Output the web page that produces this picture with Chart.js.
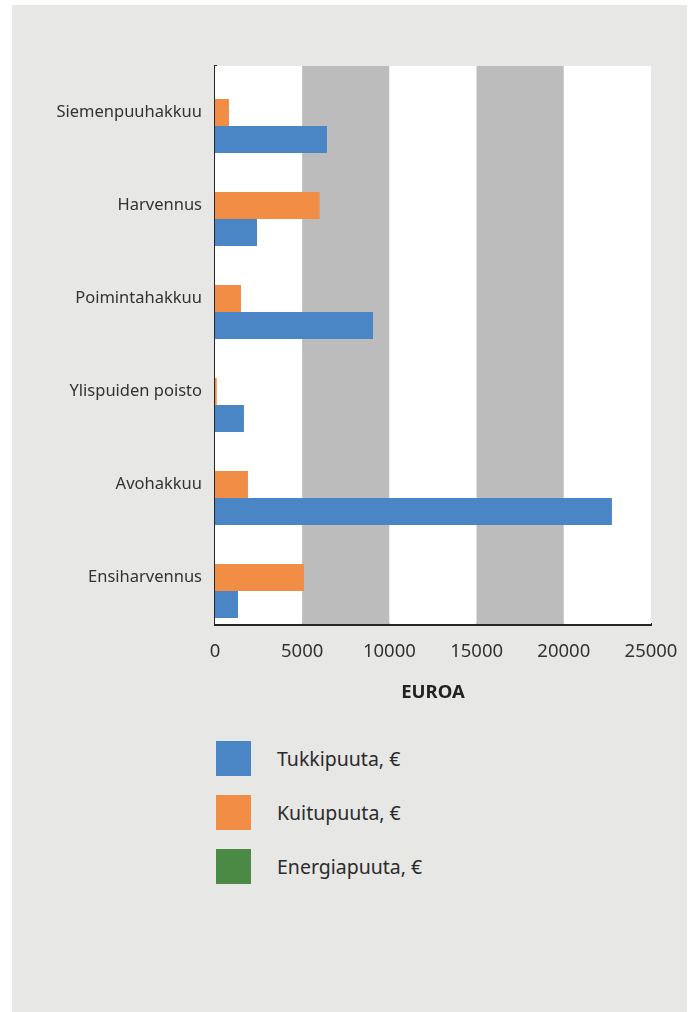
<!DOCTYPE html>
<html>
<head>
<meta charset="utf-8">
<script src="https://cdn.jsdelivr.net/npm/chart.js@4/dist/chart.umd.min.js"></script>
<style>
  body { margin: 0; background: #ffffff; }
  #panel { position: absolute; left: 12px; top: 5px; width: 675px; height: 1007px; background: #e7e7e5; }
  #mycanvas { position: absolute; left: 0; top: 0; }
  #legend { position: absolute; left: 204px; top: 726px; font-family: "Noto Sans", sans-serif; font-size: 19.5px; color: #2b2b2b; }
  .item { height: 54px; display: flex; align-items: center; }
  .box { width: 35px; height: 35px; margin-right: 26px; }
</style>
</head>
<body>
<div id="panel">
  <canvas id="mycanvas" width="675" height="720"></canvas>
  <div id="legend"></div>
</div>
<script>
var categories = ['Siemenpuuhakkuu', 'Harvennus', 'Poimintahakkuu', 'Ylispuiden poisto', 'Avohakkuu', 'Ensiharvennus'];
var tukkipuuta = [6420, 2410, 9060, 1660, 22760, 1320];
var kuitupuuta = [800, 6000, 1490, 100, 1890, 5100];
var energiapuuta = [0, 0, 0, 0, 0, 0];
var xTicks = [0, 5000, 10000, 15000, 20000, 25000];

// legend order as in the picture, bars drawn in reverse (Excel style)
var series = [
  { label: 'Tukkipuuta, €', data: tukkipuuta, color: '#4a86c5' },
  { label: 'Kuitupuuta, €', data: kuitupuuta, color: '#f28d46' },
  { label: 'Energiapuuta, €', data: energiapuuta, color: '#4b8a45' }
];

var datasets = series.slice().reverse().map(function(s) {
  return {
    label: s.label,
    data: s.data,
    backgroundColor: s.color,
    borderWidth: 0,
    categoryPercentage: 0.871,
    barPercentage: 1.0
  };
});

var bands = {
  id: 'bands',
  beforeDatasetsDraw: function(chart) {
    var ctx = chart.ctx, a = chart.chartArea, x = chart.scales.x;
    ctx.save();
    for (var i = 0; i < xTicks.length - 1; i++) {
      var x0 = x.getPixelForValue(xTicks[i]);
      var x1 = x.getPixelForValue(xTicks[i + 1]);
      ctx.fillStyle = (i % 2 === 1) ? '#bbbcbb' : '#ffffff';
      ctx.fillRect(x0, a.top, x1 - x0, a.bottom - a.top);
    }
    ctx.restore();
  }
};

var ctx = document.getElementById('mycanvas');
var barGraph = new Chart(ctx, {
  type: 'bar',
  data: { labels: categories, datasets: datasets },
  plugins: [bands],
  options: {
    indexAxis: 'y',
    responsive: false,
    animation: false,
    layout: { padding: { left: 0, right: 36, top: 61, bottom: 11 } },
    plugins: { legend: { display: false }, tooltip: { enabled: false } },
    scales: {
      x: {
        min: 0,
        max: 25000,
        afterBuildTicks: function(scale) {
          scale.ticks = xTicks.map(function(v) { return { value: v }; });
        },
        afterFit: function(scale) {
          scale.height = 90;
          scale.paddingLeft = 0;
          scale.paddingRight = 0;
        },
        grid: { display: false, drawTicks: false },
        border: { display: true, color: '#262626', width: 3 },
        ticks: {
          padding: 17,
          color: '#333333',
          font: { family: 'Noto Sans', size: 18.5 },
          maxRotation: 0,
          callback: function(v) { return String(v); }
        },
        title: {
          display: true,
          text: 'EUROA',
          color: '#222222',
          font: { family: 'Noto Sans', size: 18.5, weight: 'bold' },
          padding: { top: 0, bottom: 10 }
        }
      },
      y: {
        afterFit: function(scale) { scale.width = 203; },
        grid: { display: false, drawTicks: false },
        border: { display: true, color: '#262626', width: 3 },
        ticks: {
          padding: 13,
          color: '#333333',
          font: { family: 'Noto Sans', size: 16.5 }
        }
      }
    }
  }
});

var legend = document.getElementById('legend');
series.forEach(function(s) {
  var row = document.createElement('div');
  row.className = 'item';
  var box = document.createElement('div');
  box.className = 'box';
  box.style.background = s.color;
  var txt = document.createElement('span');
  txt.textContent = s.label;
  row.appendChild(box);
  row.appendChild(txt);
  legend.appendChild(row);
});
</script>
</body>
</html>
